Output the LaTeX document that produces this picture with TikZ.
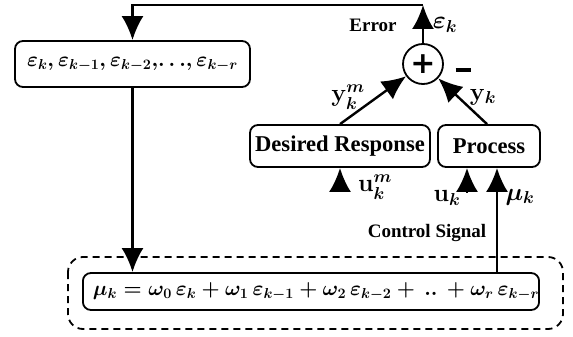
\documentclass[tikz,border=0pt]{standalone}
\usepackage{amsmath,amssymb}
\usepackage{fontspec}
\setmainfont{Liberation Serif}
\newfontfamily\plusfont{DejaVu Sans}
\usetikzlibrary{arrows.meta}
\tikzset{>={Latex[length=24pt,width=22pt]}}
\begin{document}
\begin{tikzpicture}[x=1pt,y=-1pt,
  box/.style={draw,line width=1.8pt,rounded corners=8pt,inner sep=0pt},
  wire/.style={line width=2.4pt},
  lbl/.style={font=\fontsize{19}{22}\selectfont\bfseries},
  blocktxt/.style={font=\fontsize{22.6}{26}\selectfont\bfseries},
  sym/.style={font=\fontsize{23}{27}\selectfont\boldmath},
  eqn/.style={font=\fontsize{19.5}{24}\selectfont\boldmath}]
\useasboundingbox (0,0) rectangle (573,337);
% blocks
\node[box,eqn,minimum width=235pt,minimum height=46pt] (errs) at (132.5,64) {$\varepsilon_k, \varepsilon_{k-1}, \varepsilon_{k-2},\!\ldots\!, \varepsilon_{k-r}$};
\node[draw,circle,line width=1.8pt,minimum size=40pt,inner sep=0pt,font=\fontsize{30}{30}\plusfont\bfseries] (sum) at (423,64) {+};
\node[box,blocktxt,minimum width=180pt,minimum height=42pt] (des) at (340,146) {Desired Response};
\node[box,blocktxt,minimum width=102pt,minimum height=42pt] (proc) at (489,146) {Process};
\draw[line width=1.8pt,dashed,dash pattern=on 7pt off 5pt,rounded corners=15pt] (68,257) rectangle (563,329);
\node[box,eqn,minimum width=456pt,minimum height=37pt] (law) at (311,291.5) {\hspace*{10pt}$\mu_k = \omega_0\,\varepsilon_k + \omega_1\,\varepsilon_{k-1} + \omega_2\,\varepsilon_{k-2} + \,..\, + \omega_r\,\varepsilon_{k-r}$};
% connectors
\coordinate (turn) at (423,5);
\draw[wire,->] (sum.north) -- (turn);
\draw[wire,->] (turn) -| (errs.north);
\draw[wire,->] (errs.south) -- (errs.south |- law.north);
\draw[wire,->] ([xshift=8pt]proc.south |- law.north) -- ([xshift=8pt]proc.south);
\draw[wire,<-] ([xshift=-22pt]proc.south) -- ++(0,25);
\draw[wire,<-] (des.south) -- ++(0,23);
\draw[wire,->] ([xshift=0pt]des.north) -- (sum);
\draw[wire,->] ([xshift=-2pt]proc.north) -- (sum);
% labels
\node[lbl] (errlbl) at (373,25) {Error};
\node[sym] (ek) at (445,25) {$\varepsilon_k$};
\node[inner sep=0pt] (minus) at (463,70) {\rule{15pt}{4pt}};
\node[sym] (ykm) at (348,97) {$\mathbf{y}_k^m$};
\node[sym] (yk) at (483,97) {$\mathbf{y}_k$};
\node[sym] (ukm) at (375,187) {$\mathbf{u}_k^m$};
\node[sym] (uk) at (447,198) {$\mathbf{u}_k$};
\node[sym] (muk) at (520,197) {$\mu_k$};
\node[lbl] (ctl) at (427,233) {Control Signal};
\end{tikzpicture}
\end{document}
